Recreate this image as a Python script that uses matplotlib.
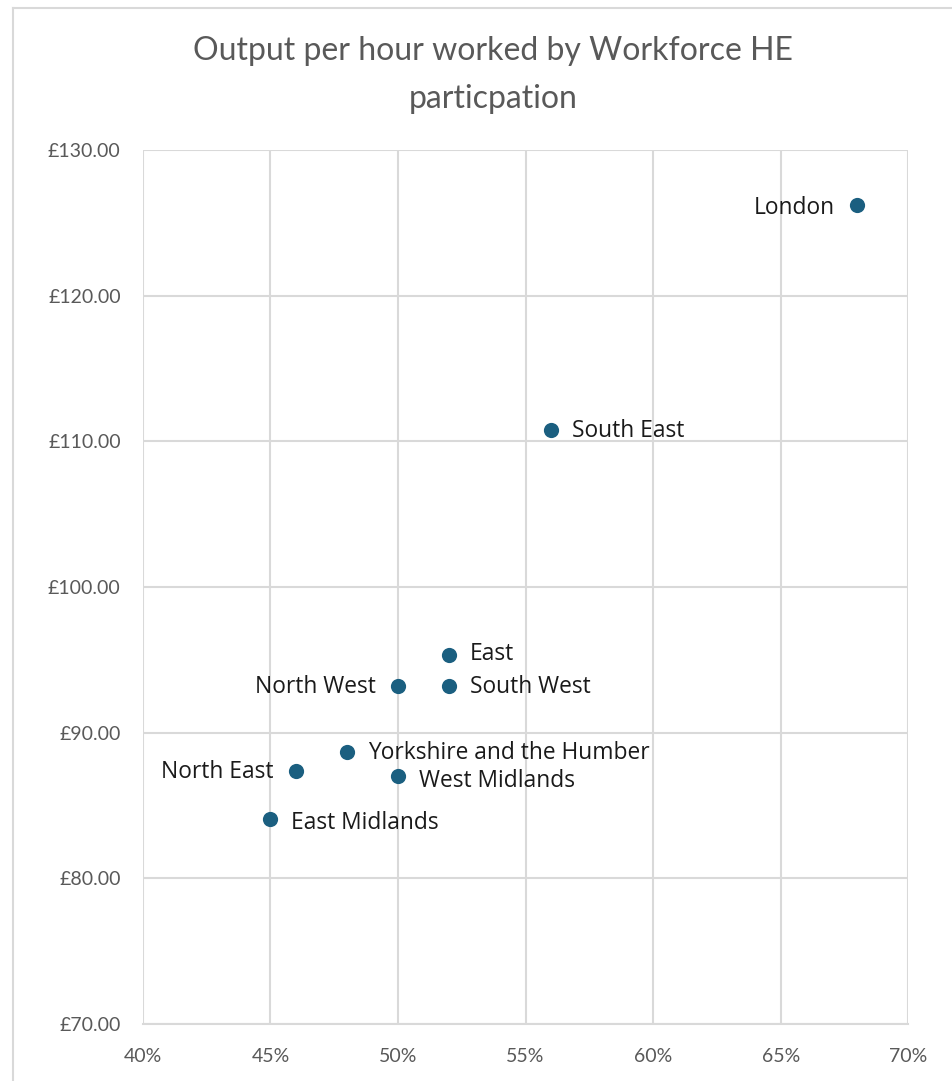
import matplotlib.pyplot as plt
from matplotlib.ticker import FuncFormatter, MultipleLocator

# Regional data: workforce HE participation vs output per hour worked
regions = ["London", "South East", "East", "North West", "South West",
           "Yorkshire and the Humber", "North East", "West Midlands", "East Midlands"]
he_share = [0.68, 0.56, 0.52, 0.50, 0.52, 0.48, 0.46, 0.50, 0.45]
output_per_hour = [126.2, 110.8, 95.3, 93.2, 93.2, 88.7, 87.4, 87.0, 84.1]
label_side = ["left", "right", "right", "left", "right", "right", "left", "right", "right"]
label_dy = [-2, -1, 1, -1, -1, -1, -1, -3, -3]

dot_color = "#1b5f80"
grid_color = "#d9d9d9"
tick_color = "#595959"

fig = plt.figure(figsize=(9.53, 10.81), dpi=100)
ax = fig.add_axes([0.150, 0.0527, 0.803, 0.8085])

ax.scatter(he_share, output_per_hour, s=120, color=dot_color, zorder=3, linewidths=0)

for name, xv, yv, side, dy in zip(regions, he_share, output_per_hour, label_side, label_dy):
    dx = 15 if side == "right" else -16
    ax.annotate(name, (xv, yv), xytext=(dx, dy), textcoords="offset points",
                ha="left" if side == "right" else "right", va="center",
                fontsize=16.4, family=["Open Sans", "DejaVu Sans"], color="#1a1a1a")

ax.set_xlim(0.40, 0.70)
ax.set_ylim(70, 130)
ax.xaxis.set_major_locator(MultipleLocator(0.05))
ax.yaxis.set_major_locator(MultipleLocator(10))
ax.xaxis.set_major_formatter(FuncFormatter(lambda v, p: f"{v*100:.0f}%"))
ax.yaxis.set_major_formatter(FuncFormatter(lambda v, p: f"£{v:.2f}"))

ax.grid(True, color=grid_color, linewidth=1.5)
ax.set_axisbelow(True)
for side in ["top", "right", "left"]:
    ax.spines[side].set_visible(False)
ax.spines["bottom"].set_color(grid_color)
ax.spines["bottom"].set_linewidth(1.5)
ax.tick_params(axis="y", length=0, pad=16, labelcolor=tick_color)
ax.tick_params(axis="x", length=0, pad=17, labelcolor=tick_color)
for lab in ax.get_xticklabels() + ax.get_yticklabels():
    lab.set_family(["Lato", "DejaVu Sans"])
    lab.set_fontsize(14)

fig.text(0.517, 0.931, "Output per hour worked by Workforce HE\nparticpation",
         ha="center", va="center", fontsize=23, color=tick_color,
         family=["Lato", "DejaVu Sans"], linespacing=1.75)

# outer chart border (left and top edges visible)
fig.add_artist(plt.Line2D([0.014, 0.014], [0, 0.993], color=grid_color, linewidth=1.5))
fig.add_artist(plt.Line2D([0.014, 1.0], [0.993, 0.993], color=grid_color, linewidth=1.5))

fig.savefig("out.png", dpi=100)
